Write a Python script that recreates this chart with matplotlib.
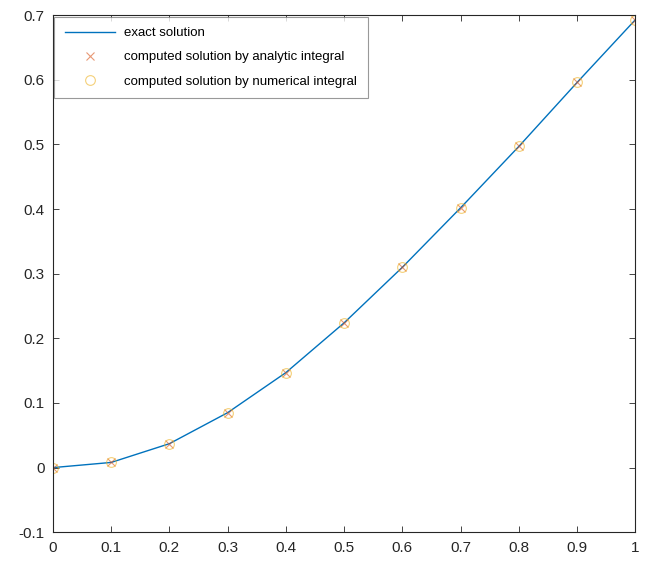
import matplotlib.pyplot as plt

plt.rcParams['font.family'] = ['Liberation Sans', 'DejaVu Sans']

x = [0, 0.1, 0.2, 0.3, 0.4, 0.5, 0.6, 0.7, 0.8, 0.9, 1.0]
y_exact = [0, 0.008, 0.037, 0.085, 0.147, 0.224, 0.310, 0.402, 0.497, 0.596, 0.693]
y_analytic = [0, 0.008, 0.037, 0.085, 0.147, 0.224, 0.310, 0.402, 0.497, 0.596, 0.693]
y_numeric = [0, 0.008, 0.037, 0.085, 0.147, 0.224, 0.310, 0.402, 0.497, 0.596, 0.693]

blue = (0, 0.447, 0.741)
orange = (0.85, 0.325, 0.098)
yellow = (0.929, 0.694, 0.125)
grey = (0.15, 0.15, 0.15)

fig = plt.figure(figsize=(6.45, 5.65), dpi=100)
ax = fig.add_axes([0.082, 0.058, 0.903, 0.915])

ax.plot(x, y_exact, color=blue, lw=1.0, label="exact solution")
ax.plot(x, y_analytic, "x", color=orange, ms=6, mew=0.8, alpha=0.6,
        label="computed solution by analytic integral")
ax.plot(x, y_numeric, "o", color=yellow, ms=7, mfc="none", mew=0.8, alpha=0.6,
        label="computed solution by numerical integral")

ax.set_xlim(0, 1)
ax.set_ylim(-0.1, 0.7)
ax.set_xticks([0, 0.1, 0.2, 0.3, 0.4, 0.5, 0.6, 0.7, 0.8, 0.9, 1])
ax.set_xticklabels(["0", "0.1", "0.2", "0.3", "0.4", "0.5", "0.6", "0.7", "0.8", "0.9", "1"])
ax.set_yticks([-0.1, 0, 0.1, 0.2, 0.3, 0.4, 0.5, 0.6, 0.7])
ax.set_yticklabels(["-0.1", "0", "0.1", "0.2", "0.3", "0.4", "0.5", "0.6", "0.7"])
ax.tick_params(direction="in", top=True, right=True, length=4, width=0.6,
               labelsize=11, colors=grey, pad=6)
for s in ax.spines.values():
    s.set_color(grey)
    s.set_linewidth(0.8)

leg = ax.legend(loc="upper left", fontsize=9.5, frameon=True, fancybox=False,
                borderaxespad=0.1, handlelength=3.8, labelspacing=0.9,
                borderpad=0.8, handletextpad=0.7)
leg.get_frame().set_edgecolor((0.5, 0.5, 0.5))
leg.get_frame().set_linewidth(0.8)

fig.savefig("out.png", dpi=100)
